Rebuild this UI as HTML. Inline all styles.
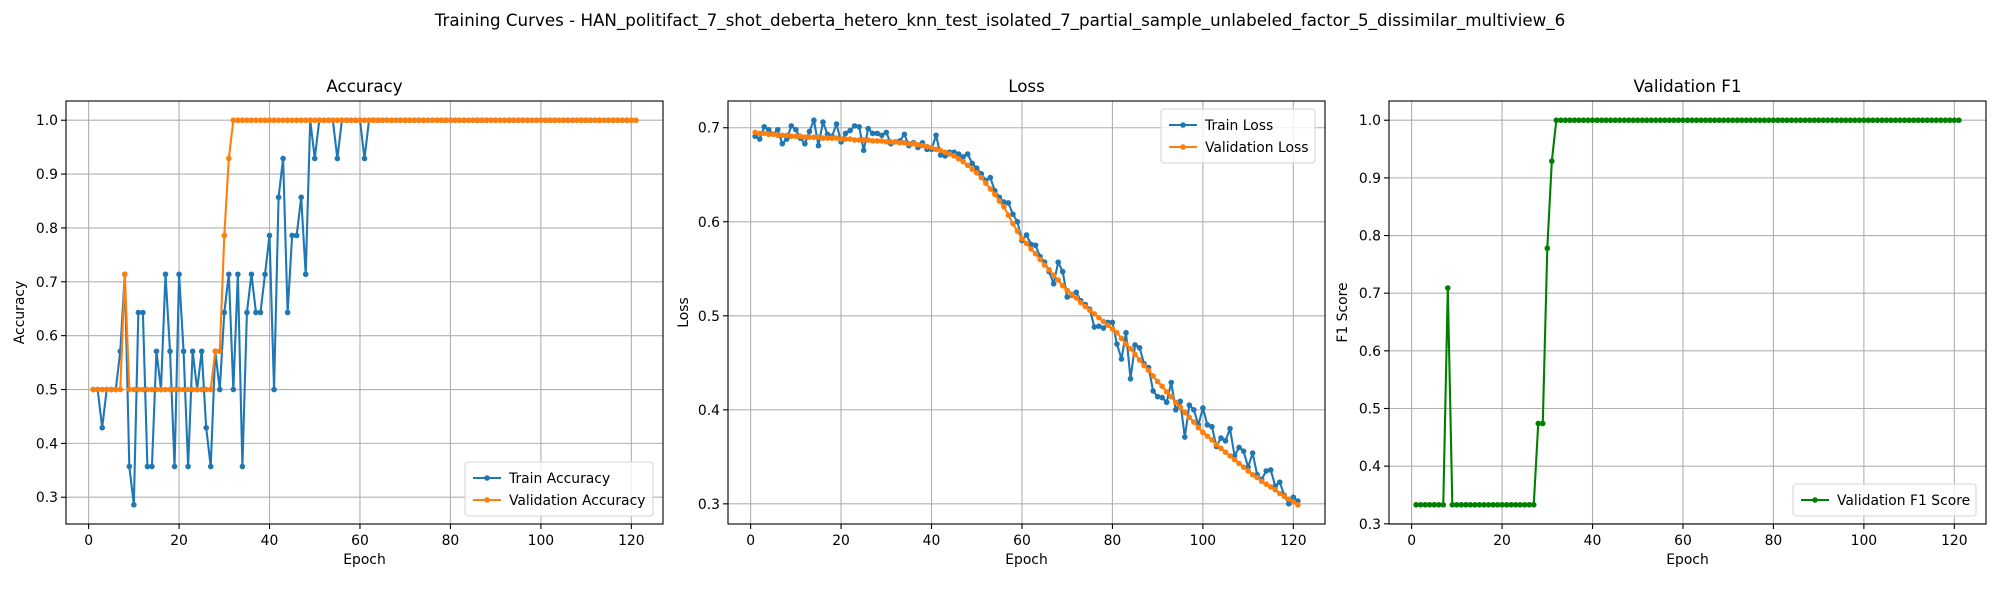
<!DOCTYPE html>
<html><head><meta charset="utf-8"><style>
html,body{margin:0;padding:0;background:#fff;}
svg{display:block;font-family:"DejaVu Sans","Liberation Sans",sans-serif;}
</style></head><body>
<svg id="fig" width="2000" height="600" viewBox="0 0 2000 600">
<text x="1000" y="26" text-anchor="middle" font-size="16.7" fill="#000">Training Curves - HAN_politifact_7_shot_deberta_hetero_knn_test_isolated_7_partial_sample_unlabeled_factor_5_dissimilar_multiview_6</text>
</svg>
<script>
const epochs = [];
for (let i = 1; i <= 121; i++) epochs.push(i);
const trainAcc = [0.5,0.5,0.429,0.5,0.5,0.5,0.571,0.714,0.357,0.286,
0.643,0.643,0.357,0.357,0.571,0.5,0.714,0.571,0.357,0.714,
0.571,0.357,0.571,0.5,0.571,0.429,0.357,0.571,0.5,0.643,
0.714,0.5,0.714,0.357,0.643,0.714,0.643,0.643,0.714,0.786,
0.5,0.857,0.929,0.643,0.786,0.786,0.857,0.714,1,0.929,
1,1,1,1,0.929,1,1,1,1,1,0.929,
1,1,1,1,1,1,1,1,1,1,1,1,1,1,1,1,1,1,1,1,1,1,1,1,1,1,1,1,1,1,1,1,1,1,1,1,1,1,1,1,1,1,1,1,1,1,1,1,1,1,1,1,1,1,1,1,1,1,1];
const valAcc = [0.5,0.5,0.5,0.5,0.5,0.5,0.5,0.714,0.5,0.5,
0.5,0.5,0.5,0.5,0.5,0.5,0.5,0.5,0.5,0.5,
0.5,0.5,0.5,0.5,0.5,0.5,0.5,0.571,0.571,0.786,
0.929,1,1,1,1,1,1,1,1,1,1,1,1,1,1,1,1,1,1,1,1,1,1,1,1,1,1,1,1,1,1,1,1,1,1,1,1,1,1,1,1,1,1,1,1,1,1,1,1,1,1,1,1,1,1,1,1,1,1,1,1,1,1,1,1,1,1,1,1,1,1,1,1,1,1,1,1,1,1,1,1,1,1,1,1,1,1,1,1,1,1];
const trainLoss = [0.691,0.688,0.701,0.698,0.693,0.698,0.683,0.688,0.702,0.698,
0.689,0.683,0.696,0.708,0.681,0.706,0.693,0.691,0.704,0.685,
0.694,0.697,0.702,0.701,0.676,0.699,0.694,0.694,0.692,0.695,
0.683,0.685,0.686,0.693,0.681,0.684,0.679,0.684,0.677,0.677,
0.692,0.671,0.670,0.674,0.674,0.672,0.669,0.672,0.662,0.657,
0.651,0.644,0.647,0.633,0.626,0.621,0.620,0.608,0.600,0.580,
0.586,0.576,0.575,0.563,0.557,0.547,0.534,0.557,0.547,0.520,
0.522,0.525,0.516,0.512,0.507,0.488,0.489,0.487,0.493,0.493,
0.470,0.454,0.482,0.433,0.469,0.466,0.449,0.445,0.420,0.414,
0.413,0.408,0.429,0.400,0.409,0.371,0.405,0.400,0.384,0.402,
0.384,0.382,0.361,0.370,0.367,0.380,0.351,0.360,0.356,0.339,
0.354,0.331,0.326,0.335,0.336,0.319,0.323,0.309,0.300,0.307,0.303];
const valLoss = [0.695,0.694,0.694,0.693,0.693,0.692,0.692,0.692,0.691,0.691,
0.691,0.690,0.690,0.690,0.690,0.689,0.689,0.689,0.689,0.688,
0.688,0.688,0.687,0.687,0.687,0.687,0.686,0.686,0.686,0.685,
0.685,0.685,0.684,0.684,0.683,0.683,0.682,0.681,0.680,0.679,
0.677,0.676,0.674,0.672,0.670,0.667,0.664,0.660,0.656,0.652,
0.647,0.641,0.635,0.629,0.622,0.616,0.607,0.598,0.590,0.582,
0.577,0.571,0.566,0.560,0.554,0.549,0.543,0.538,0.532,0.527,
0.523,0.519,0.514,0.510,0.506,0.502,0.498,0.494,0.490,0.486,
0.482,0.476,0.470,0.465,0.459,0.453,0.447,0.442,0.436,0.430,
0.425,0.419,0.414,0.408,0.403,0.397,0.392,0.387,0.381,0.376,
0.372,0.368,0.363,0.359,0.355,0.351,0.347,0.343,0.339,0.335,
0.331,0.328,0.324,0.321,0.318,0.315,0.311,0.308,0.305,0.302,0.299];
const valF1 = [0.333,0.333,0.333,0.333,0.333,0.333,0.333,0.709,0.333,0.333,
0.333,0.333,0.333,0.333,0.333,0.333,0.333,0.333,0.333,0.333,
0.333,0.333,0.333,0.333,0.333,0.333,0.333,0.474,0.474,0.778,
0.929,1,1,1,1,1,1,1,1,1,1,1,1,1,1,1,1,1,1,1,1,1,1,1,1,1,1,1,1,1,1,1,1,1,1,1,1,1,1,1,1,1,1,1,1,1,1,1,1,1,1,1,1,1,1,1,1,1,1,1,1,1,1,1,1,1,1,1,1,1,1,1,1,1,1,1,1,1,1,1,1,1,1,1,1,1,1,1,1,1,1];
const xTicks = [0,20,40,60,80,100,120];
const accTicks = [0.3,0.4,0.5,0.6,0.7,0.8,0.9,1.0];
const lossTicks = [0.3,0.4,0.5,0.6,0.7];
const f1Ticks = [0.3,0.4,0.5,0.6,0.7,0.8,0.9,1.0];

const NS = 'http://www.w3.org/2000/svg';
const svg = document.getElementById('fig');
function mk(tag, attrs, parent) {
  const e = document.createElementNS(NS, tag);
  for (const k in attrs) e.setAttribute(k, attrs[k]);
  (parent || svg).appendChild(e);
  return e;
}
function extent(arrs) {
  let lo = Infinity, hi = -Infinity;
  arrs.forEach(a => a.forEach(v => { if (v < lo) lo = v; if (v > hi) hi = v; }));
  const m = (hi - lo) * 0.05;
  return [lo - m, hi + m];
}
const TOP = 101, BOT = 524;

function panel(opt) {
  const g = mk('g', {});
  
  
  const L = opt.left, R = opt.left + 597;
  const xd = extent([epochs]);
  const yd = extent(opt.series.map(s => s.data));
  const sx = v => L + (v - xd[0]) / (xd[1] - xd[0]) * (R - L);
  const sy = v => BOT - (v - yd[0]) / (yd[1] - yd[0]) * (BOT - TOP);
  xTicks.forEach(t => {
    const x = sx(t);
    const ln = mk('line', {x1: x, x2: x, y1: TOP, y2: BOT, stroke: '#b0b0b0', 'stroke-width': 1.1}, g);
    
    
    mk('line', {x1: x, x2: x, y1: BOT, y2: BOT + 5, stroke: '#000', 'stroke-width': 1.1}, g);
    const tx = mk('text', {x: x, y: BOT + 21, 'text-anchor': 'middle', 'font-size': 13.9, fill: '#000'}, g);
    tx.textContent = t;
    
    
  });
  opt.ticks.forEach(t => {
    const y = sy(t);
    const ln = mk('line', {x1: L, x2: R, y1: y, y2: y, stroke: '#b0b0b0', 'stroke-width': 1.1}, g);
    
    
    mk('line', {x1: L - 5, x2: L, y1: y, y2: y, stroke: '#000', 'stroke-width': 1.1}, g);
    const tx = mk('text', {x: L - 8, y: y + 5, 'text-anchor': 'end', 'font-size': 13.9, fill: '#000'}, g);
    tx.textContent = t.toFixed(1);
    
    
  });
  opt.series.forEach(s => {
    const sg = mk('g', {}, g);
    
    
    const pts = s.data.map((v, i) => sx(epochs[i]).toFixed(2) + ',' + sy(v).toFixed(2)).join(' ');
    const pl = mk('polyline', {points: pts, fill: 'none', stroke: s.color, 'stroke-width': 2.1, 'stroke-linejoin': 'round'}, sg);
    
    
    s.data.forEach((v, i) => {
      const c = mk('circle', {cx: sx(epochs[i]), cy: sy(v), r: 2.8, fill: s.color}, sg);
      
      
    });
  });
  const fr = mk('rect', {x: L, y: TOP, width: R - L, height: BOT - TOP, fill: 'none', stroke: '#000', 'stroke-width': 1.1}, g);
  
  
  const ti = mk('text', {x: (L + R) / 2, y: 92, 'text-anchor': 'middle', 'font-size': 16.7, fill: '#000'}, g);
  ti.textContent = opt.title;
  
  
  const xl = mk('text', {x: (L + R) / 2, y: 564, 'text-anchor': 'middle', 'font-size': 13.9, fill: '#000'}, g);
  xl.textContent = 'Epoch';
  
  
  const yl = mk('text', {x: 0, y: 0, 'text-anchor': 'middle', 'font-size': 13.9, fill: '#000', transform: 'translate(' + opt.ylx + ',' + ((TOP + BOT) / 2) + ') rotate(-90)'}, g);
  yl.textContent = opt.ylabel;
  
  
  const lg = mk('g', {}, g);
  
  
  const lw = opt.legend.w, lh = 10 + opt.series.length * 22;
  const lx = R - 10 - lw;
  const ly = opt.legend.top ? TOP + 8 : BOT - 8 - lh;
  mk('rect', {x: lx, y: ly, width: lw, height: lh, rx: 3, fill: '#fff', 'fill-opacity': 0.8, stroke: '#d6d6d6', 'stroke-width': 1.1}, lg);
  opt.series.forEach((s, i) => {
    const yy = ly + 16 + i * 22;
    const en = mk('g', {}, lg);
    
    
    mk('line', {x1: lx + 8, x2: lx + 36, y1: yy, y2: yy, stroke: s.color, 'stroke-width': 2.1}, en);
    mk('circle', {cx: lx + 22, cy: yy, r: 2.8, fill: s.color}, en);
    const t = mk('text', {x: lx + 44, y: yy + 5, 'font-size': 13.9, fill: '#000'}, en);
    t.textContent = s.label;
  });
}

panel({name: 'accuracy', left: 66, title: 'Accuracy', ylabel: 'Accuracy', ylx: 24, ticks: accTicks,
  legend: {w: 188, top: false},
  series: [{id: 'train-accuracy', label: 'Train Accuracy', color: '#1f77b4', data: trainAcc},
           {id: 'validation-accuracy', label: 'Validation Accuracy', color: '#ff7f0e', data: valAcc}]});
panel({name: 'loss', left: 728, title: 'Loss', ylabel: 'Loss', ylx: 688, ticks: lossTicks,
  legend: {w: 154, top: true},
  series: [{id: 'train-loss', label: 'Train Loss', color: '#1f77b4', data: trainLoss},
           {id: 'validation-loss', label: 'Validation Loss', color: '#ff7f0e', data: valLoss}]});
panel({name: 'f1', left: 1389, title: 'Validation F1', ylabel: 'F1 Score', ylx: 1347, ticks: f1Ticks,
  legend: {w: 183, top: false},
  series: [{id: 'validation-f1', label: 'Validation F1 Score', color: '#008000', data: valF1}]});
</script>
</body></html>
